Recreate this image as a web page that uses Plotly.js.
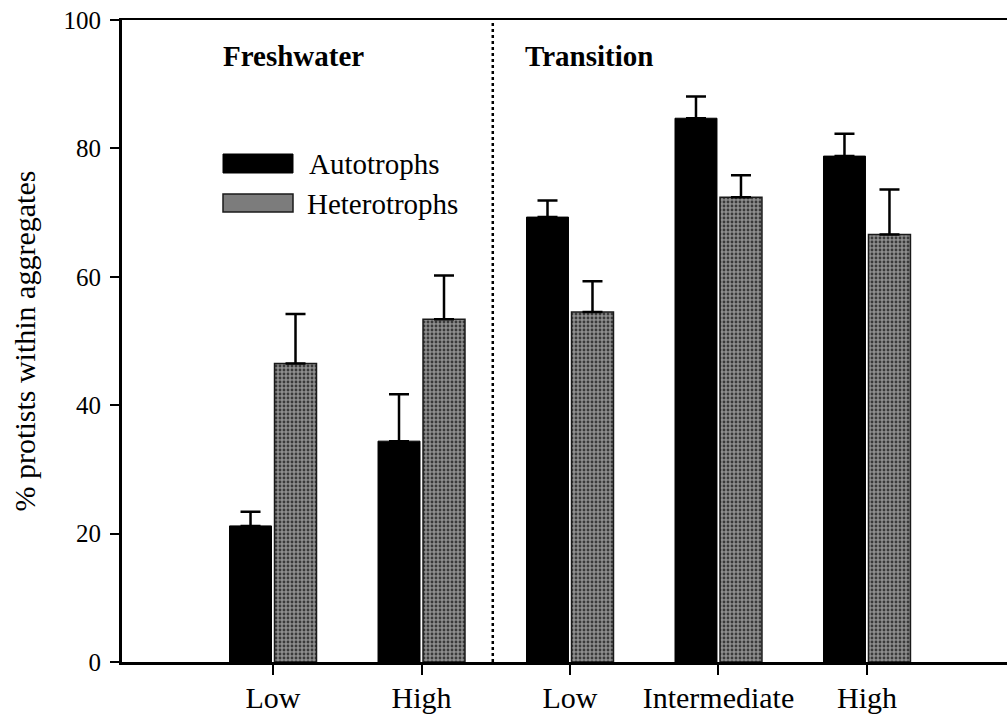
<!DOCTYPE html>
<html>
<head>
<meta charset="utf-8">
<script src="https://cdn.plot.ly/plotly-3.0.1.min.js"></script>
<style>html,body{margin:0;padding:0;background:#fff;}#chart{width:1007px;height:720px;}</style>
</head>
<body>
<div id="chart"></div>
<script>
// ---- data ----
const categories = ["Low", "High", "Low", "Intermediate", "High"];
const groups = ["Freshwater", "Transition"];
const seriesNames = ["Autotrophs", "Heterotrophs"];
const autotrophs = [21.2, 34.4, 69.3, 84.7, 78.8];
const autotrophsErr = [2.2, 7.3, 2.6, 3.4, 3.5];
const heterotrophs = [46.5, 53.4, 54.5, 72.4, 66.6];
const heterotrophsErr = [7.7, 6.8, 4.8, 3.4, 7.0];
const yTicks = [0, 20, 40, 60, 80, 100];

const xIdx = categories.map((_, i) => i);
const zeros = categories.map(() => 0);
const FONT = "Liberation Serif, Times New Roman, serif";

const traces = [
  {
    type: "bar", name: seriesNames[0], x: xIdx, y: autotrophs,
    marker: {color: "#000000", line: {color: "#000000", width: 1}},
    error_y: {type: "data", symmetric: false, array: autotrophsErr, arrayminus: zeros,
              color: "#000000", thickness: 2.5, width: 10},
    showlegend: false
  },
  {
    type: "bar", name: seriesNames[1], x: xIdx, y: heterotrophs,
    marker: {color: "#888888", line: {color: "#1a1a1a", width: 1.5},
             pattern: {shape: ".", bgcolor: "#8e8e8e", fgcolor: "#3a3a3a", size: 4, solidity: 0.4}},
    error_y: {type: "data", symmetric: false, array: heterotrophsErr, arrayminus: zeros,
              color: "#000000", thickness: 2.5, width: 10},
    showlegend: false
  }
];

// paper helpers for legend / labels (plot area 122..1007 x, 20..662 y)
const px = v => (v - 122) / 885;
const py = v => (662 - v) / 642;

const layout = {
  width: 1007, height: 720,
  margin: {l: 122, r: 0, t: 20, b: 58},
  paper_bgcolor: "#ffffff", plot_bgcolor: "#ffffff",
  barmode: "group", bargap: 0.394, bargroupgap: 0.067,
  font: {family: FONT, color: "#000000"},
  xaxis: {
    range: [-1.017, 4.943],
    tickmode: "array", tickvals: xIdx, ticktext: categories,
    ticks: "outside", ticklen: 10, tickwidth: 2, tickcolor: "#000",
    showline: true, linecolor: "#000", linewidth: 2.5, mirror: true,
    showgrid: false, zeroline: false,
    tickfont: {family: FONT, size: 30, color: "#000"},
    ticklabelstandoff: -3
  },
  yaxis: {
    range: [0, 100],
    tickmode: "array", tickvals: yTicks,
    ticks: "outside", ticklen: 9, tickwidth: 2, tickcolor: "#000",
    showline: true, linecolor: "#000", linewidth: 3,
    showgrid: false, zeroline: false,
    tickfont: {family: FONT, size: 25, color: "#000"},
    ticklabelstandoff: 4,
    title: {text: "% protists within aggregates", font: {family: FONT, size: 30, color: "#000"}, standoff: 20}
  },
  shapes: [
    {type: "line", xref: "x", yref: "y", x0: 1.48, x1: 1.48, y0: 0, y1: 100,
     line: {color: "#000", width: 2.5, dash: "dot"}},
    {type: "rect", xref: "paper", yref: "paper", x0: px(223), x1: px(293), y0: py(173), y1: py(154),
     fillcolor: "#000", line: {color: "#000", width: 1}},
    {type: "rect", xref: "paper", yref: "paper", x0: px(223), x1: px(293), y0: py(212), y1: py(194),
     fillcolor: "#7c7c7c", line: {color: "#1a1a1a", width: 1.5}}
  ],
  annotations: [
    {xref: "paper", yref: "paper", x: px(221), y: py(56), xanchor: "left", yanchor: "middle",
     text: "<b>" + groups[0] + "</b>", showarrow: false, font: {family: FONT, size: 29, color: "#000"}},
    {xref: "paper", yref: "paper", x: px(523), y: py(56), xanchor: "left", yanchor: "middle",
     text: "<b>" + groups[1] + "</b>", showarrow: false, font: {family: FONT, size: 29, color: "#000"}},
    {xref: "paper", yref: "paper", x: px(307), y: py(164), xanchor: "left", yanchor: "middle",
     text: seriesNames[0], showarrow: false, font: {family: FONT, size: 29, color: "#000"}},
    {xref: "paper", yref: "paper", x: px(305), y: py(204), xanchor: "left", yanchor: "middle",
     text: seriesNames[1], showarrow: false, font: {family: FONT, size: 29, color: "#000"}}
  ],
  showlegend: false
};

Plotly.newPlot("chart", traces, layout, {displayModeBar: false, staticPlot: true});
</script>
</body>
</html>
